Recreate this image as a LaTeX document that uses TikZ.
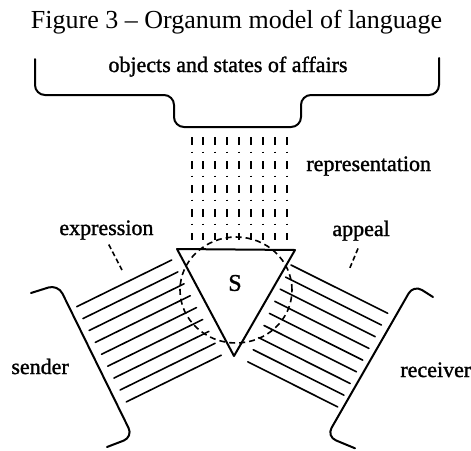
\documentclass[tikz,border=0pt]{standalone}
\usepackage{fontspec}
\setmainfont{Liberation Serif}
\newfontfamily\inkfont[FakeBold=1.3]{Liberation Serif}
\begin{document}
\begin{tikzpicture}[x=0.5pt,y=-0.5pt,line join=round,line cap=round,
    lbl/.style={font=\inkfont\fontsize{11}{13}\selectfont,anchor=base west,inner sep=0pt},
    rim/.style={line width=1pt,rounded corners=5pt},
    hatch/.style={line width=0.8pt},
    rep/.style={line width=1pt,line cap=butt,dash pattern=on 3.75pt off 3.5pt on 0.75pt off 4pt},
    ring/.style={line width=0.8pt,line cap=butt,dash pattern=on 3pt off 2pt},
    pointer/.style={line width=0.8pt,line cap=butt,dash pattern=on 2.5pt off 1.5pt}]
      \useasboundingbox (0,0) rectangle (471,450);
      \node[anchor=base,inner sep=0pt,font=\fontsize{13}{15}\selectfont] (title) at (236.5,28) {Figure 3 – Organum model of language};
      % objects and states of affairs
      \draw[rim] (35,59) -- (35,95) -- (174,95) -- (174,127) -- (301,127) -- (301,95) -- (439,95) -- (439,58);
      \node[lbl,anchor=base] (objects) at (228,72) {objects and states of affairs};
      % representation
      \foreach \i in {0,...,8}
        \draw[rep] ({191.5+11.9*\i},137) -- ({191.5+11.9*\i},240);
      \node[lbl] (repr) at (306,171) {representation};
      % sign
      \draw[ring] (236,290) ellipse [x radius=28pt,y radius=26.5pt];
      \draw[line width=1pt] (177,249) -- (295,250) -- (234,356) -- cycle;
      \node[lbl,anchor=center,font=\inkfont\fontsize{12}{14}\selectfont] (S) at (235,283) {S};
      % expression
      \foreach \i in {0,...,8}
        \draw[hatch] ({76.7+6.2*\i},{306.7+11.9*\i}) -- ++(95,-46.7);
      \draw[rim] (31,293) -- (58,284.5) -- (133,437) -- (107,447);
      \node[lbl] (expr) at (59,235) {expression};
      \node[lbl] (sender) at (11,374) {sender};
      \coordinate (exprtip) at (122,270);
      \draw[pointer,shorten <=2.5pt] (expr.south) -- (exprtip);
      % appeal
      \foreach \i in {0,...,8}
        \draw[hatch] ({291-5.4*\i},{265+12.1*\i}) -- ({387.7-6.25*\i},{313.3+11.7*\i});
      \draw[rim] (433,297) -- (413.6,284.7) -- (326.6,436.5) -- (355,448.3);
      \node[lbl] (appeal) at (332,236) {appeal};
      \node[lbl] (receiver) at (400,377) {receiver};
      \coordinate (appealtip) at (349,270);
      \draw[pointer,shorten <=4pt] (appeal.south) -- (appealtip);
\end{tikzpicture}
\end{document}
